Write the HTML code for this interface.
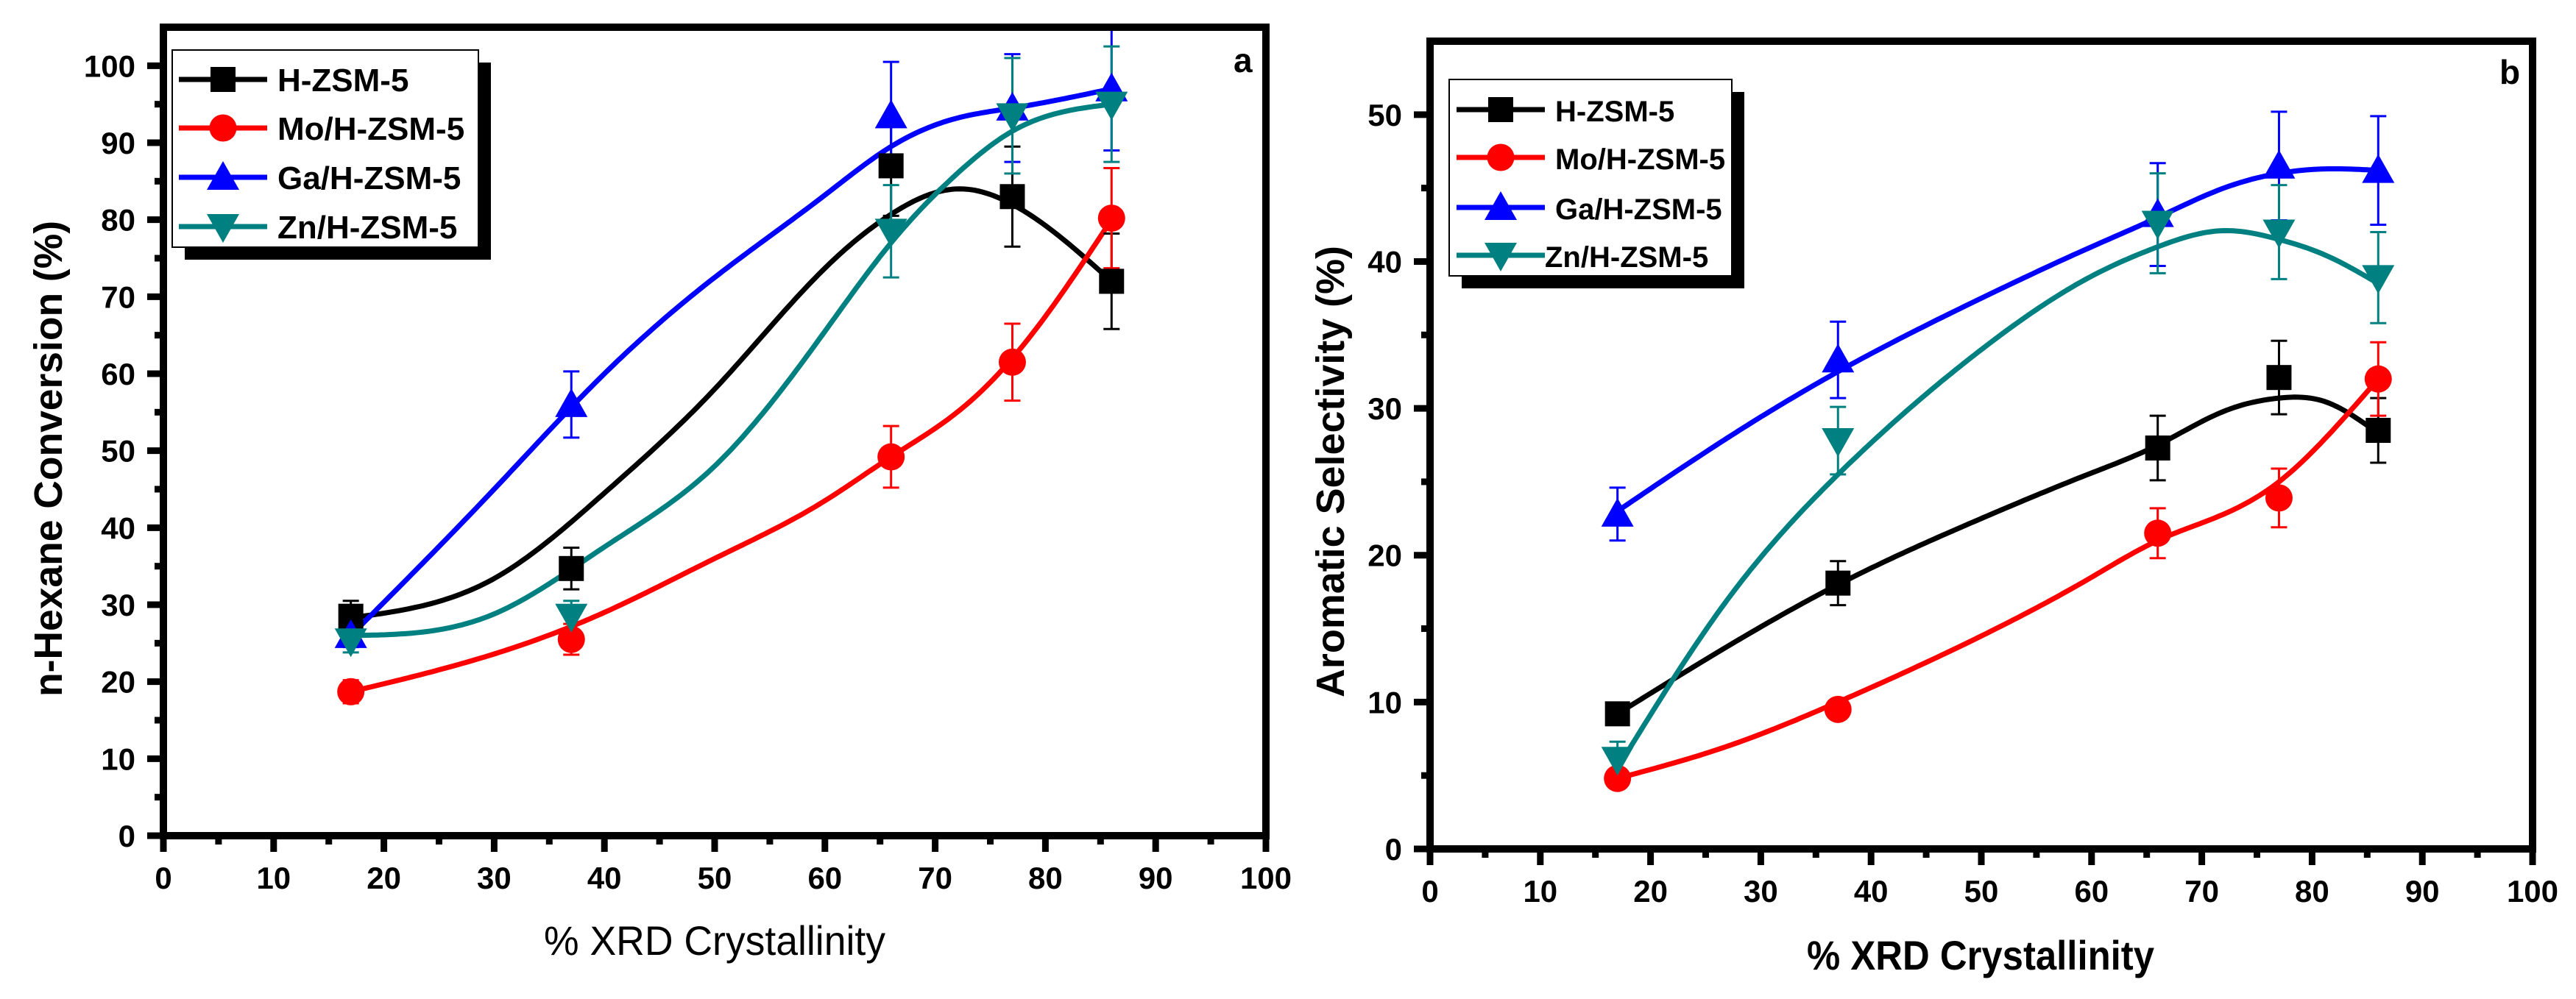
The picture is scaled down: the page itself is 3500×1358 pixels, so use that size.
<!DOCTYPE html>
<html><head><meta charset="utf-8"><style>
html,body{margin:0;padding:0;background:#fff;}
svg{display:block;}
text{font-family:"Liberation Sans",sans-serif;}
</style></head><body>
<svg id="fig" width="3500" height="1358" viewBox="0 0 3500 1358" xmlns="http://www.w3.org/2000/svg"></svg>
<script>
// ---- data ----
const xPoints = [17, 37, 66, 77, 86];
const seriesNames = ["H-ZSM-5", "Mo/H-ZSM-5", "Ga/H-ZSM-5", "Zn/H-ZSM-5"];
const seriesColors = ["#000000", "#ff0000", "#0000ff", "#008080"];
const seriesMarkers = ["square", "circle", "up", "down"];
const xTickLabels = ["0","10","20","30","40","50","60","70","80","90","100"];

// panel a: n-Hexane conversion
const aH = [28.5, 34.7, 87, 83, 72];
const aMo = [18.7, 25.5, 49.2, 61.5, 80.2];
const aGa = [26, 56, 93.5, 94.5, 97];
const aZn = [25.3, 28.5, 78.5, 93.5, 95];
const aErrH = [2, 2.7, 6.5, 6.5, 6.2];
const aErrMo = [1.5, 2, 4, 5, 6.5];
const aErrGa = [1.5, 4.3, 7, 7, 8];
const aErrZn = [1.5, 2, 6, 7.5, 7.5];
const fitX = [17, 30, 40, 50, 60, 66, 72, 77, 86];
const aFitH = [28.3, 33.4, 44.5, 58, 73.7, 80.7, 84, 82, 72];
const aFitMo = [18.7, 23.6, 29, 36, 43.5, 49.2, 55, 62, 80];
const aFitGa = [26, 45, 60, 72.5, 83.2, 89.5, 93.2, 94.5, 97];
const aFitZn = [26, 28.8, 37.5, 48, 65.5, 77, 86, 91.5, 95];
const aYTicks = ["0","10","20","30","40","50","60","70","80","90","100"];

// panel b: aromatic selectivity
const bH = [9.2, 18.1, 27.3, 32.1, 28.5];
const bMo = [4.8, 9.5, 21.5, 23.9, 32];
const bGa = [22.8, 33.3, 43.2, 46.5, 46.2];
const bZn = [6.1, 27.8, 42.6, 42, 38.9];
const bErrH = [0.5, 1.5, 2.2, 2.5, 2.2];
const bErrMo = [0.5, 0.5, 1.7, 2, 2.5];
const bErrGa = [1.8, 2.6, 3.5, 3.7, 3.7];
const bErrZn = [1.2, 2.3, 3.4, 3.2, 3.1];
const bFitX = [17, 27, 37, 50, 60, 66, 72, 77, 81, 86];
const bFitH = [9.2, 13.8, 18, 22.5, 25.6, 27.5, 29.8, 30.7, 30.5, 28.3];
const bFitMo = [4.8, 7, 10, 14.5, 18.5, 21, 22.8, 25, 27.8, 32];
const bFitGa = [23, 28, 32.5, 37.5, 41, 43, 45, 46, 46.3, 46.2];
const bFitZn = [5.5, 17, 25.5, 34, 39, 41, 42.1, 41.5, 40.5, 38.5];
const bYTicks = ["0","10","20","30","40","50"];

const NS = "http://www.w3.org/2000/svg";
const svg = document.getElementById("fig");
function el(tag, attrs, parent) {
  const e = document.createElementNS(NS, tag);
  for (const k in attrs) e.setAttribute(k, attrs[k]);
  (parent || svg).appendChild(e);
  return e;
}

// natural cubic spline y(x)
function naturalSpline(xs, ys) {
  const n = xs.length, h = [], al = [], l = [1], mu = [0], z = [0], c = new Array(n).fill(0), b = [], d = [];
  for (let i = 0; i < n - 1; i++) h.push(xs[i + 1] - xs[i]);
  for (let i = 1; i < n - 1; i++) al[i] = 3 / h[i] * (ys[i + 1] - ys[i]) - 3 / h[i - 1] * (ys[i] - ys[i - 1]);
  for (let i = 1; i < n - 1; i++) {
    l[i] = 2 * (xs[i + 1] - xs[i - 1]) - h[i - 1] * mu[i - 1];
    mu[i] = h[i] / l[i];
    z[i] = (al[i] - h[i - 1] * z[i - 1]) / l[i];
  }
  for (let j = n - 2; j >= 0; j--) {
    c[j] = (j < n - 2 || true) ? (z[j] || 0) - (mu[j] || 0) * c[j + 1] : 0;
    b[j] = (ys[j + 1] - ys[j]) / h[j] - h[j] * (c[j + 1] + 2 * c[j]) / 3;
    d[j] = (c[j + 1] - c[j]) / (3 * h[j]);
  }
  c[0] = 0;
  return function (x) {
    let i = 0;
    while (i < n - 2 && x > xs[i + 1]) i++;
    const dx = x - xs[i];
    return ys[i] + b[i] * dx + c[i] * dx * dx + d[i] * dx * dx * dx;
  };
}

function marker(g, type, cx, cy, color) {
  let m;
  if (type === "square") m = el("rect", {x: cx - 17, y: cy - 17, width: 34, height: 34, fill: color}, g);
  else if (type === "circle") m = el("circle", {cx: cx, cy: cy, r: 18.5, fill: color}, g);
  else if (type === "up") m = el("polygon", {points: (cx-22)+","+(cy+17)+" "+(cx+22)+","+(cy+17)+" "+cx+","+(cy-22), fill: color}, g);
  else m = el("polygon", {points: (cx-22)+","+(cy-17)+" "+(cx+22)+","+(cy-17)+" "+cx+","+(cy+22), fill: color}, g);
  return m;
}

function panel(cfg) {
  const X = v => cfg.x0 + (v - 0) * (cfg.x1 - cfg.x0) / 100;
  const Y = v => cfg.y0 - v * (cfg.y0 - cfg.yTop) / cfg.yMax;
  const g = el("g", {});
  
  

  for (let s = 0; s < 4; s++) {
    const f = naturalSpline(cfg.fitX, cfg.fits[s]);
    const xa = cfg.fitX[0], xb = cfg.fitX[cfg.fitX.length - 1];
    let d = "";
    for (let k = 0; k <= 200; k++) {
      const x = xa + (xb - xa) * k / 200;
      d += (k ? " L" : "M") + X(x).toFixed(1) + "," + Y(f(x)).toFixed(1);
    }
    const p = el("path", {d: d, fill: "none", stroke: seriesColors[s], "stroke-width": 7, "stroke-linejoin": "round"}, g);
    
    
  }
  for (let s = 0; s < 4; s++) {
    xPoints.forEach((x, i) => {
      const v = cfg.vals[s][i], e = cfg.errs[s][i];
      const cx = X(x), top = Y(v + e), bot = Y(v - e);
      const eb = el("path", {d: "M"+cx+","+top+" V"+bot+" M"+(cx-11)+","+top+" H"+(cx+11)+" M"+(cx-11)+","+bot+" H"+(cx+11), stroke: seriesColors[s], "stroke-width": 3, fill: "none"}, g);
      
      
    });
  }
  for (let s = 0; s < 4; s++) {
    xPoints.forEach((x, i) => {
      const m = marker(g, seriesMarkers[s], X(x), Y(cfg.vals[s][i]), seriesColors[s]);
      
      
    });
  }
  const fr = el("rect", {x: cfg.x0, y: cfg.yTop, width: cfg.x1 - cfg.x0, height: cfg.y0 - cfg.yTop, fill: "none", stroke: "#000", "stroke-width": 10}, g);
  
  
  for (let v = 0; v <= 100; v += 5) {
    const major = v % 10 === 0;
    const t = el("line", {x1: X(v), x2: X(v), y1: cfg.y0, y2: cfg.y0 + (major ? 22 : 12), stroke: "#000", "stroke-width": 9}, g);
    
    
  }
  xTickLabels.forEach((lab, i) => {
    const t = el("text", {x: X(i * 10), y: cfg.y0 + 72, "text-anchor": "middle", "font-size": 42, "font-weight": "bold"}, g);
    t.textContent = lab;
    
    
  });
  for (let v = 0; v <= cfg.yMax - 0.1; v += 5) {
    const major = v % 10 === 0;
    const t = el("line", {x1: cfg.x0 - (major ? 22 : 12), x2: cfg.x0, y1: Y(v), y2: Y(v), stroke: "#000", "stroke-width": 9}, g);
    
    
  }
  cfg.yTicks.forEach((lab, i) => {
    const t = el("text", {x: cfg.x0 - 38, y: Y(i * 10) + 15, "text-anchor": "end", "font-size": 42, "font-weight": "bold"}, g);
    t.textContent = lab;
    
    
  });
  const xt = el("text", {x: cfg.xtX, y: cfg.xtY, "font-size": 56, "font-weight": cfg.xtBold ? "bold" : "normal", textLength: cfg.xtLen, lengthAdjust: "spacingAndGlyphs"}, g);
  xt.textContent = "% XRD Crystallinity";
  
  
  const yt = el("text", {x: 0, y: 0, "font-size": 54, "font-weight": "bold", textLength: cfg.ytLen, lengthAdjust: "spacingAndGlyphs", transform: "translate(" + cfg.ytX + "," + cfg.ytY + ") rotate(-90)"}, g);
  yt.textContent = cfg.yTitle;
  
  
  const pl = el("text", {x: cfg.lblX, y: cfg.lblY, "font-size": 46, "font-weight": "bold"}, g);
  pl.textContent = cfg.label;
  
  
  const L = cfg.leg;
  const lg = el("g", {}, g);
  
  
  el("rect", {x: L.x + 17, y: L.y + 17, width: L.w, height: L.h, fill: "#000"}, lg);
  el("rect", {x: L.x, y: L.y, width: L.w, height: L.h, fill: "#fff", stroke: "#000", "stroke-width": 2}, lg);
  for (let s = 0; s < 4; s++) {
    const ry = L.rows[s];
    const e = el("g", {}, lg);
    
    
    el("line", {x1: L.lx0, x2: L.lx1, y1: ry, y2: ry, stroke: seriesColors[s], "stroke-width": 7}, e);
    marker(e, seriesMarkers[s], (L.lx0 + L.lx1) / 2, ry, seriesColors[s]);
    const t = el("text", {x: s === 3 ? L.tx3 : L.tx, y: ry + 16, "font-size": L.fs, "font-weight": "bold"}, e);
    t.textContent = seriesNames[s];
  }
}

panel({name: "panel-a", x0: 222, x1: 1720, y0: 1136, yTop: 37, yMax: 105,
  fitX: fitX, fits: [aFitH, aFitMo, aFitGa, aFitZn],
  vals: [aH, aMo, aGa, aZn], errs: [aErrH, aErrMo, aErrGa, aErrZn], yTicks: aYTicks,
  xtX: 739, xtY: 1298, xtLen: 464, xtBold: false,
  ytX: 84, ytY: 947, ytLen: 647, yTitle: "n-Hexane Conversion (%)",
  lblX: 1676, lblY: 98, label: "a",
  leg: {x: 234, y: 68, w: 416, h: 268, rows: [108, 174, 241, 308], lx0: 243, lx1: 363, tx: 377, tx3: 377, fs: 44}});

panel({name: "panel-b", x0: 1943, x1: 3441, y0: 1154, yTop: 56, yMax: 55,
  fitX: bFitX, fits: [bFitH, bFitMo, bFitGa, bFitZn],
  vals: [bH, bMo, bGa, bZn], errs: [bErrH, bErrMo, bErrGa, bErrZn], yTicks: bYTicks,
  xtX: 2455, xtY: 1318, xtLen: 472, xtBold: true,
  ytX: 1826, ytY: 948, ytLen: 614, yTitle: "Aromatic Selectivity (%)",
  lblX: 3396, lblY: 114, label: "b",
  leg: {x: 1969, y: 108, w: 384, h: 267, rows: [149, 214, 282, 347], lx0: 1979, lx1: 2099, tx: 2113, tx3: 2099, fs: 40}});
</script>
</body></html>
